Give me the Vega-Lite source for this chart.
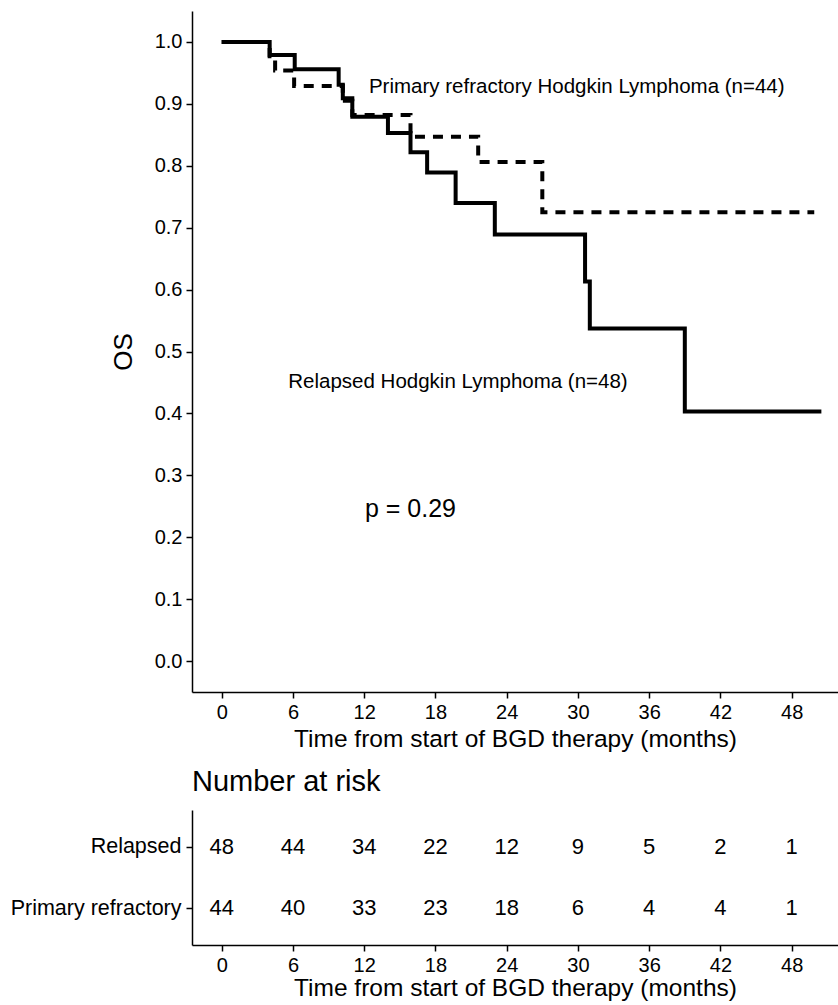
{
  "$schema": "https://vega.github.io/schema/vega-lite/v6.json",
  "autosize": {"type": "none"},
  "padding": {"left": 192, "top": 11, "right": 646, "bottom": 994},
  "background": "white",
  "config": {
    "font": "Liberation Sans",
    "view": {"stroke": null},
    "axis": {
      "grid": false,
      "domainColor": "#000000",
      "domainWidth": 1.5,
      "tickColor": "#000000",
      "tickWidth": 1.5,
      "tickSize": 6,
      "labelColor": "#000000",
      "labelFont": "Liberation Sans",
      "labelFontSize": 20,
      "labelPadding": 4,
      "titleColor": "#000000",
      "titleFont": "Liberation Sans",
      "titleFontSize": 24.5,
      "titleFontWeight": "normal"
    }
  },
  "datasets": {
    "km": [
      {"group": "Relapsed", "time": 0, "surv": 1.0},
      {"group": "Relapsed", "time": 4.04, "surv": 0.979},
      {"group": "Relapsed", "time": 6.15, "surv": 0.956},
      {"group": "Relapsed", "time": 9.85, "surv": 0.931},
      {"group": "Relapsed", "time": 10.2, "surv": 0.909},
      {"group": "Relapsed", "time": 11.0, "surv": 0.879},
      {"group": "Relapsed", "time": 14.0, "surv": 0.853},
      {"group": "Relapsed", "time": 15.9, "surv": 0.822},
      {"group": "Relapsed", "time": 17.3, "surv": 0.789},
      {"group": "Relapsed", "time": 19.7, "surv": 0.74},
      {"group": "Relapsed", "time": 23.0, "surv": 0.689},
      {"group": "Relapsed", "time": 30.6, "surv": 0.613},
      {"group": "Relapsed", "time": 31.0, "surv": 0.537},
      {"group": "Relapsed", "time": 39.0, "surv": 0.403},
      {"group": "Relapsed", "time": 50.5, "surv": 0.403},
      {"group": "Primary refractory", "time": 0, "surv": 1.0},
      {"group": "Primary refractory", "time": 4.04, "surv": 0.977},
      {"group": "Primary refractory", "time": 4.5, "surv": 0.954},
      {"group": "Primary refractory", "time": 6.1, "surv": 0.929},
      {"group": "Primary refractory", "time": 10.2, "surv": 0.905},
      {"group": "Primary refractory", "time": 11.0, "surv": 0.882},
      {"group": "Primary refractory", "time": 15.9, "surv": 0.847},
      {"group": "Primary refractory", "time": 21.6, "surv": 0.806},
      {"group": "Primary refractory", "time": 27.0, "surv": 0.725},
      {"group": "Primary refractory", "time": 49.9, "surv": 0.725}
    ],
    "risk": [
      {"group": "Relapsed", "time": 0, "n": 48},
      {"group": "Relapsed", "time": 6, "n": 44},
      {"group": "Relapsed", "time": 12, "n": 34},
      {"group": "Relapsed", "time": 18, "n": 22},
      {"group": "Relapsed", "time": 24, "n": 12},
      {"group": "Relapsed", "time": 30, "n": 9},
      {"group": "Relapsed", "time": 36, "n": 5},
      {"group": "Relapsed", "time": 42, "n": 2},
      {"group": "Relapsed", "time": 48, "n": 1},
      {"group": "Primary refractory", "time": 0, "n": 44},
      {"group": "Primary refractory", "time": 6, "n": 40},
      {"group": "Primary refractory", "time": 12, "n": 33},
      {"group": "Primary refractory", "time": 18, "n": 23},
      {"group": "Primary refractory", "time": 24, "n": 18},
      {"group": "Primary refractory", "time": 30, "n": 6},
      {"group": "Primary refractory", "time": 36, "n": 4},
      {"group": "Primary refractory", "time": 42, "n": 4},
      {"group": "Primary refractory", "time": 48, "n": 1}
    ]
  },
  "vconcat": [
    {
      "width": 646,
      "height": 681,
      "layer": [
        {
          "data": {"name": "km"},
          "mark": {"type": "line", "interpolate": "step-after", "color": "#000000", "strokeWidth": 4, "strokeCap": "butt", "strokeJoin": "miter"},
          "encoding": {
            "x": {
              "field": "time", "type": "quantitative",
              "scale": {"domain": [-2.5, 51.9], "nice": false, "zero": false},
              "axis": {"values": [0, 6, 12, 18, 24, 30, 36, 42, 48], "title": "Time from start of BGD therapy (months)", "titlePadding": 5}
            },
            "y": {
              "field": "surv", "type": "quantitative",
              "scale": {"domain": [-0.05, 1.05], "nice": false, "zero": false},
              "axis": {"values": [0, 0.1, 0.2, 0.3, 0.4, 0.5, 0.6, 0.7, 0.8, 0.9, 1.0], "format": ".1f", "title": "OS", "titleFontSize": 26, "titlePadding": 18}
            },
            "detail": {"field": "group"},
            "strokeDash": {
              "field": "group", "type": "nominal",
              "scale": {"domain": ["Relapsed", "Primary refractory"], "range": [[1, 0], [10, 8]]},
              "legend": null
            }
          }
        },
        {
          "data": {"values": [
            {"time": 29.9, "surv": 0.927, "label": "Primary refractory Hodgkin Lymphoma (n=44)"},
            {"time": 19.9, "surv": 0.45, "label": "Relapsed Hodgkin Lymphoma (n=48)"}
          ]},
          "mark": {"type": "text", "fontSize": 20.5, "color": "#000000", "align": "center", "baseline": "middle"},
          "encoding": {
            "x": {"field": "time", "type": "quantitative"},
            "y": {"field": "surv", "type": "quantitative"},
            "text": {"field": "label"}
          }
        },
        {
          "data": {"values": [
            {"time": 15.9, "surv": 0.245, "label": "p = 0.29"}
          ]},
          "mark": {"type": "text", "fontSize": 25, "color": "#000000", "align": "center", "baseline": "middle"},
          "encoding": {
            "x": {"field": "time", "type": "quantitative"},
            "y": {"field": "surv", "type": "quantitative"},
            "text": {"field": "label"}
          }
        }
      ]
    },
    {
      "width": 646,
      "height": 135,
      "title": {"text": "Number at risk", "anchor": "start", "frame": "group", "fontSize": 29, "fontWeight": "normal", "font": "Liberation Sans", "color": "#000000", "offset": 13},
      "data": {"name": "risk"},
      "mark": {"type": "text", "fontSize": 22, "color": "#000000", "align": "center", "baseline": "middle"},
      "encoding": {
        "x": {
          "field": "time", "type": "quantitative",
          "scale": {"domain": [-2.5, 51.9], "nice": false, "zero": false},
          "axis": {"values": [0, 6, 12, 18, 24, 30, 36, 42, 48], "title": "Time from start of BGD therapy (months)", "titlePadding": 1}
        },
        "y": {
          "field": "group", "type": "nominal",
          "scale": {"type": "point", "domain": ["Relapsed", "Primary refractory"], "padding": 0.6},
          "axis": {"title": null, "labelFontSize": 21.5, "labelPadding": 5}
        },
        "text": {"field": "n", "type": "quantitative"}
      }
    }
  ],
  "spacing": 118,
  "bounds": "flush"
}
